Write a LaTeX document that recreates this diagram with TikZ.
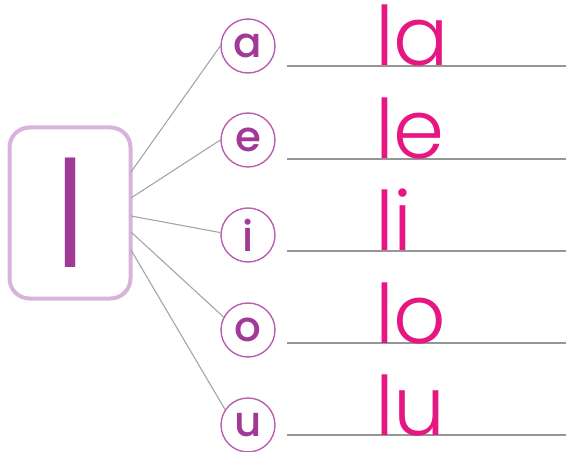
\documentclass[tikz,border=0pt]{standalone}
\usepackage{fontspec}
\setmainfont{Poppins}
\newfontfamily\lightfont{Poppins Light}
\newfontfamily\medfont{Poppins Medium}
\definecolor{pinkc}{RGB}{230,22,130}
\definecolor{purpc}{RGB}{160,58,150}
\definecolor{ringc}{RGB}{185,95,175}
\definecolor{boxc}{RGB}{216,180,220}
\definecolor{linec}{RGB}{150,150,150}
\definecolor{connc}{RGB}{165,165,165}
\begin{document}
\begin{tikzpicture}[x=1pt,y=-1pt,
  vowel/.style={circle,draw=ringc,line width=1.4pt,minimum size=54pt,inner sep=0pt,
    text=purpc,font=\medfont\fontsize{42}{42}\selectfont},
  conn/.style={draw=connc,line width=1.1pt},
  wline/.style={draw=linec,line width=1.8pt},
  syl/.style={anchor=base west,inner sep=0pt,text=pinkc,font=\lightfont\fontsize{82}{82}\selectfont}]
\useasboundingbox (0,0) rectangle (566,452);
\node[draw=boxc,line width=4pt,rounded corners=20pt,minimum width=121pt,minimum height=171pt,
  text=purpc,font=\lightfont\fontsize{148}{148}\selectfont] (box) at (70,213) {l};
\foreach \v/\y/\ly/\sy/\ang in {a/46/66/172/180,e/140/159/198/180,i/235/251/216/175,o/330/343/232/152,u/425/435/250/146}{
  \node[vowel] (c\v) at (248,\y) {\v};
  \coordinate (s\v) at (131,\sy);
  \draw[conn] (s\v) -- (c\v.\ang);
  \coordinate (l\v) at (287,\ly);
  \coordinate (r\v) at (566,\ly);
  \draw[wline] (l\v) -- (r\v);
  \node[syl] (t\v) at (375,\ly) {l\v};
}
\end{tikzpicture}
\end{document}
